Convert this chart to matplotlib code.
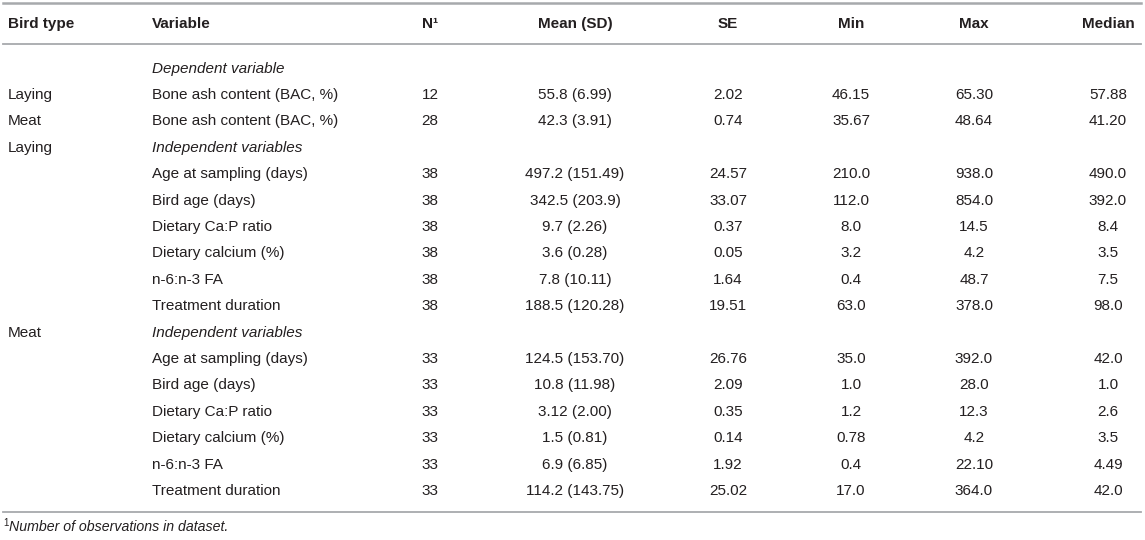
import matplotlib
matplotlib.use("Agg")
import matplotlib.pyplot as plt

plt.rcParams['font.family'] = ['Liberation Sans', 'DejaVu Sans']

headers = ["Bird type", "Variable", "N\u00b9", "Mean (SD)", "SE", "Min", "Max", "Median"]

bird_type = ["", "Laying", "Meat", "Laying", "", "", "", "", "", "",
             "Meat", "", "", "", "", "", ""]
variable = ["Dependent variable",
            "Bone ash content (BAC, %)", "Bone ash content (BAC, %)",
            "Independent variables",
            "Age at sampling (days)", "Bird age (days)", "Dietary Ca:P ratio",
            "Dietary calcium (%)", "n-6:n-3 FA", "Treatment duration",
            "Independent variables",
            "Age at sampling (days)", "Bird age (days)", "Dietary Ca:P ratio",
            "Dietary calcium (%)", "n-6:n-3 FA", "Treatment duration"]
italic_rows = [0, 3, 10]
n_obs = ["", "12", "28", "", "38", "38", "38", "38", "38", "38",
         "", "33", "33", "33", "33", "33", "33"]
mean_sd = ["", "55.8 (6.99)", "42.3 (3.91)", "",
           "497.2 (151.49)", "342.5 (203.9)", "9.7 (2.26)", "3.6 (0.28)", "7.8 (10.11)", "188.5 (120.28)",
           "",
           "124.5 (153.70)", "10.8 (11.98)", "3.12 (2.00)", "1.5 (0.81)", "6.9 (6.85)", "114.2 (143.75)"]
se = ["", "2.02", "0.74", "", "24.57", "33.07", "0.37", "0.05", "1.64", "19.51",
      "", "26.76", "2.09", "0.35", "0.14", "1.92", "25.02"]
min_v = ["", "46.15", "35.67", "", "210.0", "112.0", "8.0", "3.2", "0.4", "63.0",
         "", "35.0", "1.0", "1.2", "0.78", "0.4", "17.0"]
max_v = ["", "65.30", "48.64", "", "938.0", "854.0", "14.5", "4.2", "48.7", "378.0",
         "", "392.0", "28.0", "12.3", "4.2", "22.10", "364.0"]
median = ["", "57.88", "41.20", "", "490.0", "392.0", "8.4", "3.5", "7.5", "98.0",
          "", "42.0", "1.0", "2.6", "3.5", "4.49", "42.0"]
footnote = "Number of observations in dataset."

columns = [bird_type, variable, n_obs, mean_sd, se, min_v, max_v, median]
col_x = [8, 152, 430, 575, 728, 851, 974, 1108]
col_ha = ["left", "left", "center", "center", "center", "center", "center", "center"]

txt = "#231f20"
rule = "#a7a9ac"
fs = 11

fig = plt.figure(figsize=(11.45, 5.4), dpi=100)
ax = fig.add_axes([0, 0, 1, 1])
ax.set_xlim(0, 1145)
ax.set_ylim(540, 0)
ax.axis("off")

# horizontal rules
ax.plot([3, 1141], [3, 3], color=rule, lw=1.8)
ax.plot([3, 1141], [44, 44], color=rule, lw=1.3)
ax.plot([3, 1141], [512, 512], color=rule, lw=1.3)

for x, ha, h in zip(col_x, col_ha, headers):
    ax.text(x, 24, h, ha=ha, va="center", fontsize=fs, fontweight="bold", color=txt)

y0, dy = 68.6, 26.4
for c, (x, ha, col) in enumerate(zip(col_x, col_ha, columns)):
    for r, val in enumerate(col):
        style = "italic" if (c == 1 and r in italic_rows) else "normal"
        ax.text(x, y0 + r * dy, val, ha=ha, va="center", fontsize=fs,
                fontstyle=style, color=txt)

ax.text(3, 523, "1", ha="left", va="center", fontsize=7, color=txt)
ax.text(9, 527, footnote, ha="left", va="center", fontsize=10.2, fontstyle="italic", color=txt)

fig.savefig("out.png", dpi=100)
